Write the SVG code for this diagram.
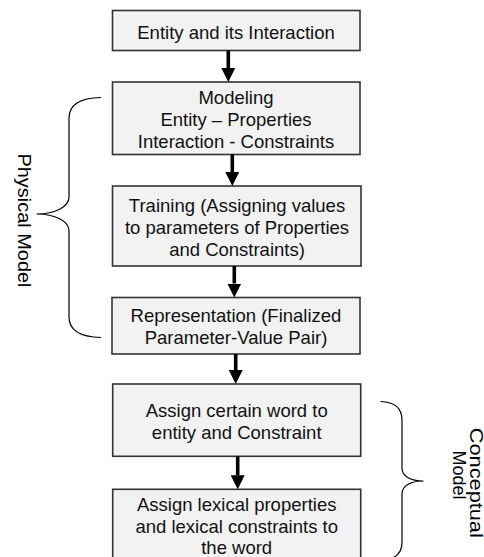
<svg xmlns="http://www.w3.org/2000/svg" width="484" height="557" viewBox="0 0 484 557">
  <style>
    .box { fill: #f2f2f2; stroke: #333333; stroke-width: 1.6; }
    .lbl { font-family: "Liberation Sans", Arial, sans-serif; font-size: 18.5px; fill: #111111; text-anchor: middle; }
    .side { font-family: "Liberation Sans", Arial, sans-serif; font-size: 18px; fill: #000000; text-anchor: middle; }
    .flow { stroke: #000000; stroke-width: 3.6; fill: none; }
    .brace { stroke: #000000; stroke-width: 1.2; fill: none; }
  </style>
  <defs>
    <marker id="head" viewBox="0 0 14 14" refX="0" refY="7" markerWidth="14" markerHeight="14" markerUnits="userSpaceOnUse" orient="auto">
      <path d="M0,0 L14,7 L0,14 Z" fill="#000000"/>
    </marker>
  </defs>
  <rect width="484" height="557" fill="#ffffff"/>

  <!-- process steps -->
  <g id="entity">
    <rect class="box" x="112.5" y="10.5" width="247.5" height="40"/>
    <text class="lbl" x="236" y="39">Entity and its Interaction</text>
  </g>
  <g id="modeling">
    <rect class="box" x="112.5" y="82" width="247.5" height="72.5"/>
    <text class="lbl" x="236" y="104">Modeling</text>
    <text class="lbl" x="236" y="126">Entity – Properties</text>
    <text class="lbl" x="236" y="147.5">Interaction - Constraints</text>
  </g>
  <g id="training">
    <rect class="box" x="112.5" y="186" width="248.5" height="80"/>
    <text class="lbl" x="237" y="211.5">Training (Assigning values</text>
    <text class="lbl" x="237" y="233.5">to parameters of Properties</text>
    <text class="lbl" x="237" y="255.5">and Constraints)</text>
  </g>
  <g id="representation">
    <rect class="box" x="112" y="297.5" width="248" height="56.5"/>
    <text class="lbl" x="236" y="321.7">Representation (Finalized</text>
    <text class="lbl" x="236" y="344">Parameter-Value Pair)</text>
  </g>
  <g id="assign-word">
    <rect class="box" x="112.7" y="384" width="248" height="72.3"/>
    <text class="lbl" x="236.7" y="417.3">Assign certain word to</text>
    <text class="lbl" x="236.7" y="438.7">entity and Constraint</text>
  </g>
  <g id="assign-lexical">
    <rect class="box" x="112.7" y="489.3" width="248" height="80"/>
    <text class="lbl" x="236.7" y="510.7">Assign lexical properties</text>
    <text class="lbl" x="236.7" y="532.7">and lexical constraints to</text>
    <text class="lbl" x="236.7" y="554">the word</text>
  </g>

  <!-- arrows between steps -->
  <g id="connectors">
    <line class="flow" x1="228.3" y1="50.5" x2="228.3" y2="68" marker-end="url(#head)"/>
    <line class="flow" x1="232.3" y1="154.5" x2="232.3" y2="172" marker-end="url(#head)"/>
    <line class="flow" x1="234.3" y1="266" x2="234.3" y2="283.5" marker-end="url(#head)"/>
    <line class="flow" x1="235.7" y1="354" x2="235.7" y2="370" marker-end="url(#head)"/>
    <line class="flow" x1="237.7" y1="456.3" x2="237.7" y2="475.3" marker-end="url(#head)"/>
  </g>

  <!-- grouping braces -->
  <g id="physical-model">
    <path class="brace" d="M101,97.5 C80,98 69,105 69,118 L69,197 C69,207 55,214 36.5,214 C55,214 69,221 69,231 L69,317 C69,330 80,337 101,337.5"/>
    <text class="side" transform="translate(18,220.5) rotate(90)" textLength="134" lengthAdjust="spacingAndGlyphs">Physical Model</text>
  </g>
  <g id="conceptual-model">
    <path class="brace" d="M380.5,401.5 C395,402 402,408 402,420 L402,468 C402,476 410,481 423.5,481 C410,481 402,486 402,494 L402,542 C402,554 395,560 380.5,560"/>
    <text class="side" transform="translate(469.5,482.8) rotate(90)" textLength="110" lengthAdjust="spacingAndGlyphs">Conceptual</text>
    <text class="side" transform="translate(453,475) rotate(90)">Model</text>
  </g>
</svg>
